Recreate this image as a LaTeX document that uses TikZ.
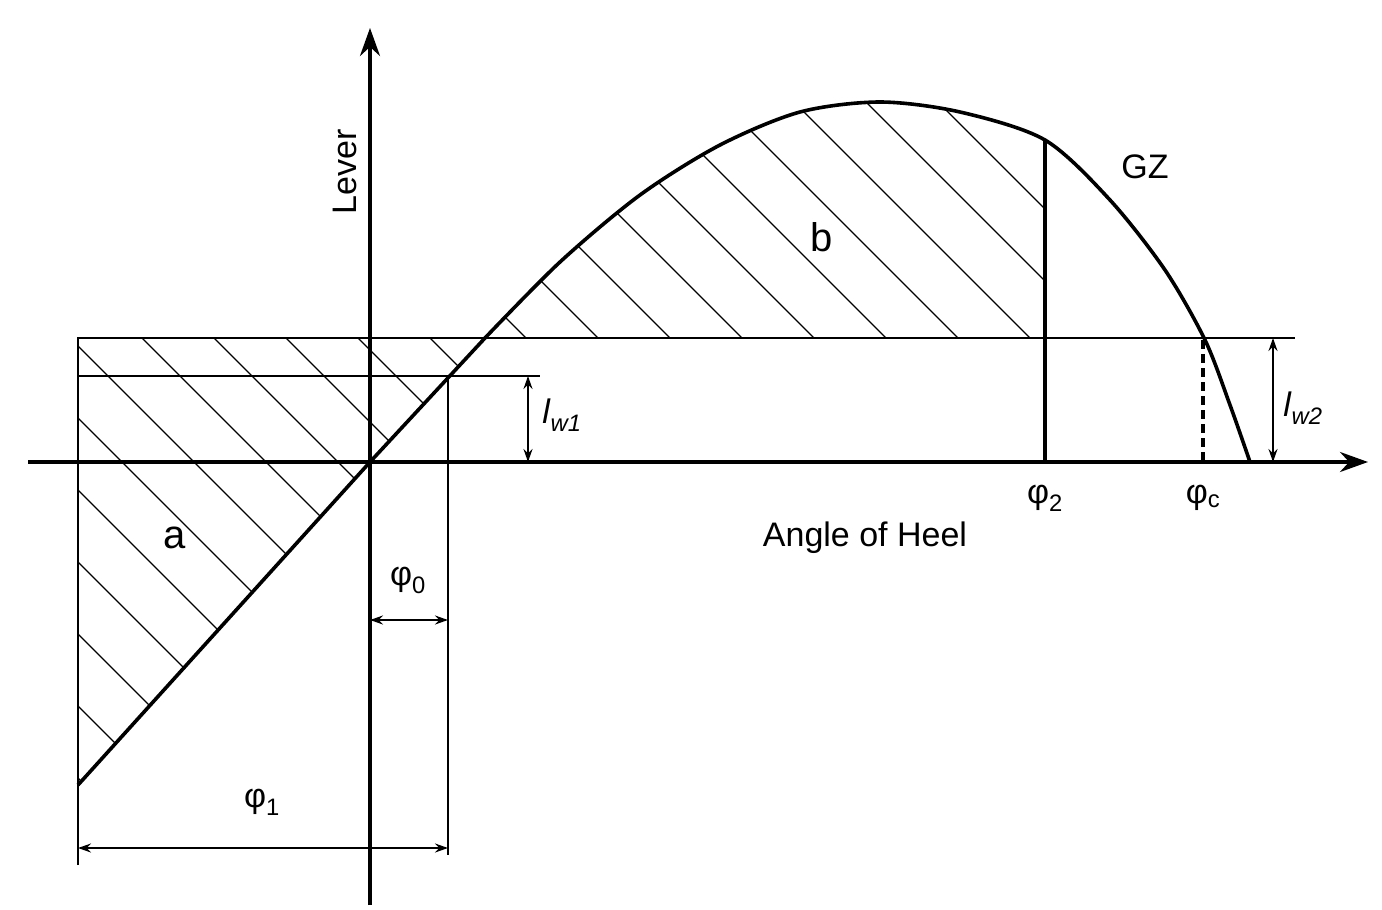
\documentclass[tikz,border=0pt]{standalone}
\usepackage{fontspec}
\setmainfont{Liberation Sans}
\usetikzlibrary{arrows.meta}
\begin{document}
\begin{tikzpicture}[x=1pt,y=-1pt,
  thin/.style={line width=1.8pt},
  thick2/.style={line width=3.6pt},
  hatch/.style={line width=1.2pt},
  dim/.style={line width=2pt,{Stealth[length=13pt,width=9pt]}-{Stealth[length=13pt,width=9pt]}},
  lab/.style={font=\fontsize{34}{36}\selectfont}]
\useasboundingbox (0,0) rectangle (1382,910);
% hatching a
\begin{scope}
\clip (78,338) -- (485,338) -- (370,462) -- (78,785) -- cycle;
\foreach \c in {-700,-628,...,600}{\draw[hatch] (\c,0) -- ++(900,900);}
\end{scope}
% hatching b
\begin{scope}
\clip (485,338) plot[smooth] coordinates {(485,338) (560,262) (640,195) (720,145) (800,112) (880,102) (960,112) (1045,140)} -- (1045,338) -- cycle;
\foreach \c in {-100,-28,...,1200}{\draw[hatch] (\c,0) -- ++(900,900);}
\end{scope}
% lines
\draw[thin] (78,865) -- (78,338) -- (1295,338);
\draw[thin] (78,376) -- (540,376);
\draw[thin] (448,376) -- (448,855);
\draw[thick2] (1045,140) -- (1045,462);
\draw[thick2,dash pattern=on 9pt off 5pt] (1203,340) -- (1203,462);
% axes
\draw[thick2,-{Stealth[length=28pt,width=20pt]}] (28,462) -- (1368,462);
\draw[thick2,-{Stealth[length=28pt,width=20pt]}] (370,905) -- (370,28);
% GZ curve
\draw[thick2,line join=round] (78,785) -- (370,462) -- (485,338) plot[smooth] coordinates {(485,338) (560,262) (640,195) (720,145) (800,112) (880,102) (960,112) (1045,140) (1110,200) (1165,270) (1205,340) (1230,405) (1250,462)};
% dimension arrows
\coordinate (w1a) at (528,376); \coordinate (w1b) at (528,462);
\draw[dim] (w1a) -- (w1b);
\coordinate (w2a) at (1273,338); \coordinate (w2b) at (1273,462);
\draw[dim] (w2a) -- (w2b);
\coordinate (p0a) at (370,620); \coordinate (p0b) at (448,620);
\draw[dim] (p0a) -- (p0b);
\coordinate (p1a) at (78,848); \coordinate (p1b) at (448,848);
\draw[dim] (p1a) -- (p1b);
% labels
\node[lab,rotate=90] (lever) at (345,172) {Lever};
\node[lab] (gzl) at (1145,167) {GZ};
\node[font=\fontsize{40}{42}\selectfont] (b) at (822,237) {b};
\node[font=\fontsize{40}{42}\selectfont] (a) at (175,538) {a};
\node[lab] (aoh) at (865,538) {Angle of Heel};
\node[lab] (phi2) at (1045,498) {φ\textsubscript{2}};
\node[lab] (phic) at (1203,498) {φ\textsubscript{c}};
\node[lab] (phi0) at (408,580) {φ\textsubscript{0}};
\node[lab] (phi1) at (262,802) {φ\textsubscript{1}};
\node[lab] (lw1) at (562,415) {\textit{l}\textsubscript{\textit{w1}}};
\node[lab] (lw2) at (1303,408) {\textit{l}\textsubscript{\textit{w2}}};
\end{tikzpicture}
\end{document}
